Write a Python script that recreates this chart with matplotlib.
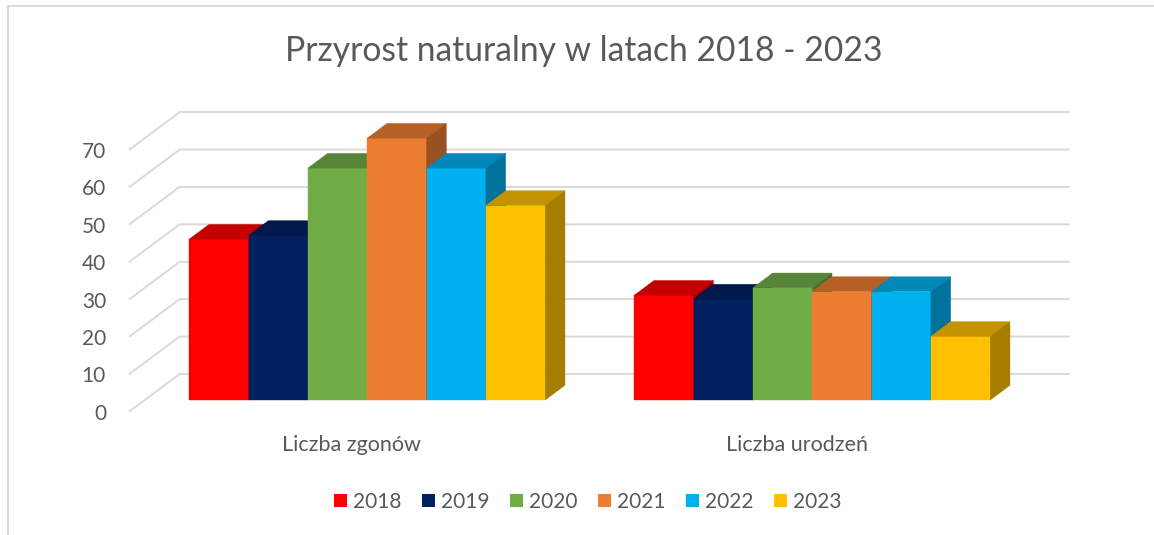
import matplotlib
matplotlib.use('Agg')
import matplotlib.pyplot as plt
from matplotlib.patches import Polygon, Patch
from matplotlib.lines import Line2D
import matplotlib.colors as mcolors

# ---------------- data ----------------
categories = ['Liczba zgonów', 'Liczba urodzeń']
years = ['2018', '2019', '2020', '2021', '2022', '2023']
values_2018 = [43, 28]
values_2019 = [44, 27]
values_2020 = [62, 30]
values_2021 = [70, 29]
values_2022 = [62, 29]
values_2023 = [52, 17]
series = [values_2018, values_2019, values_2020, values_2021, values_2022, values_2023]
y_ticks = [0, 10, 20, 30, 40, 50, 60, 70]
title = 'Przyrost naturalny w latach 2018 - 2023'

# ---------------- style ----------------
colors = ['#FF0000', '#002060', '#70AD47', '#ED7D31', '#00B0F0', '#FFC000']
TOP_SHADE = 0.77
SIDE_SHADE = 0.65
TEXT_COLOR = '#595959'
GRID_COLOR = '#D9D9D9'

plt.rcParams['font.family'] = ['Lato', 'DejaVu Sans']

W, H = 1154, 535
fig = plt.figure(figsize=(W / 100, H / 100), dpi=100)
ax = fig.add_axes([0, 0, 1, 1])

# pixel layout of the plot (front floor)
PX_X0 = 129.0       # x pixel of category axis start
PX_PER_CAT = 445.0  # pixels per category
PX_Y0 = 411.7       # y pixel of value 0 (front)
PX_PER_UNIT = 3.74  # pixels per value unit
ax.set_xlim(-PX_X0 / PX_PER_CAT, (W - PX_X0) / PX_PER_CAT)
ax.set_ylim((PX_Y0 - H) / PX_PER_UNIT, PX_Y0 / PX_PER_UNIT)
ax.axis('off')

# oblique depth vector (full depth of floor), in data units
DX = 0.1139
DY = 10.1
F0 = 0.31   # front of bars as fraction of depth
FD = 0.39   # bar depth as fraction of depth

ncat = len(categories)

# gridlines: side wall diagonal + back wall horizontal
for v in y_ticks:
    ax.plot([0, DX, ncat + DX], [v, v + DY, v + DY], color=GRID_COLOR,
            lw=1.4, solid_capstyle='butt', zorder=1)

def shade(c, f):
    r, g, b = mcolors.to_rgb(c)
    return (r * f, g * f, b * f)

n = len(years)
group_w = 0.8
bw = group_w / n
ox, oy = F0 * DX, F0 * DY
bx, by = FD * DX, FD * DY

z = 2
for ci in range(ncat):
    for k in range(n):
        h = series[k][ci]
        col = colors[k]
        x0 = ci + (1 - group_w) / 2 + k * bw + ox
        x1 = x0 + bw
        y0 = oy
        y1 = oy + h
        ax.bar(x0, h, width=bw, bottom=y0, align='edge', color=col,
               edgecolor=col, linewidth=0.3, zorder=z)
        tc = shade(col, TOP_SHADE)
        sc = shade(col, SIDE_SHADE)
        ax.add_patch(Polygon([(x0, y1), (x1, y1), (x1 + bx, y1 + by), (x0 + bx, y1 + by)],
                             closed=True, facecolor=tc, edgecolor=tc, lw=0.3, zorder=z))
        ax.add_patch(Polygon([(x1, y0), (x1 + bx, y0 + by), (x1 + bx, y1 + by), (x1, y1)],
                             closed=True, facecolor=sc, edgecolor=sc, lw=0.3, zorder=z))
        z += 1

# value axis labels
lab_x = (106 - PX_X0) / PX_PER_CAT
for v in y_ticks:
    ax.text(lab_x, v - 8.0 / PX_PER_UNIT, str(v), ha='right', va='baseline',
            fontsize=15, color=TEXT_COLOR)

# category labels
for ci, cat in enumerate(categories):
    ax.text(ci + 0.5, (PX_Y0 - 451) / PX_PER_UNIT, cat, ha='center', va='baseline',
            fontsize=15.5, color=TEXT_COLOR)

# title
fig.text(584 / W, 1 - 60.7 / H, title, ha='center', va='baseline',
         fontsize=24.2, color=TEXT_COLOR)

# legend
handles = [Patch(facecolor=c, edgecolor='none') for c in colors]
fig.legend(handles, years, loc='center', bbox_to_anchor=(587.7 / W, 1 - 502 / H),
           ncol=n, frameon=False, fontsize=15, labelcolor=TEXT_COLOR,
           handlelength=0.62, handleheight=0.62, handletextpad=0.28,
           columnspacing=1.0, borderpad=0)

# chart area border (left and top visible)
fig.add_artist(Line2D([7.5 / W, 7.5 / W], [0, 1 - 5.5 / H], transform=fig.transFigure,
                      color=GRID_COLOR, lw=1.3))
fig.add_artist(Line2D([7.5 / W, 1], [1 - 5.5 / H, 1 - 5.5 / H], transform=fig.transFigure,
                      color=GRID_COLOR, lw=1.3))

fig.savefig('out.png', dpi=100)
